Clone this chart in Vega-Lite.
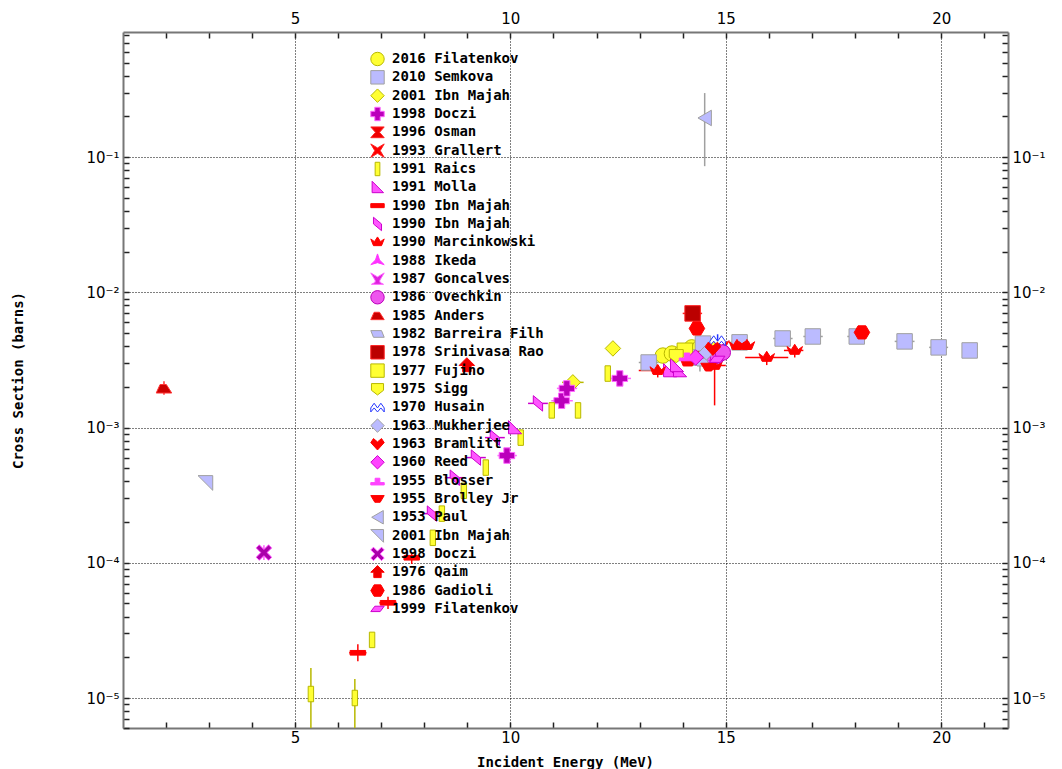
{
  "$schema": "https://vega.github.io/schema/vega-lite/v6.json",
  "width": 885,
  "height": 696,
  "autosize": {"type": "none"},
  "padding": {"left": 123, "top": 32, "right": 54, "bottom": 41},
  "background": "white",
  "config": {
    "view": {"stroke": null},
    "axis": {
      "domainColor": "#777777",
      "domainWidth": 2,
      "tickColor": "#222222",
      "tickWidth": 1.5,
      "gridColor": "#000000",
      "gridDash": [1, 2],
      "gridWidth": 1,
      "labelFont": "DejaVu Sans",
      "labelFontSize": 15,
      "labelColor": "#000000",
      "titleFont": "DejaVu Sans Mono",
      "titleFontWeight": "bold",
      "titleFontSize": 14,
      "titleColor": "#000000"
    },
    "legend": {"symbolLimit": 40}
  },
  "datasets": {
    "pts": [
      {"s": "01|2016 Filatenkov", "x": 13.54, "y": 0.00341, "xlo": 13.35, "xhi": 13.73},
      {"s": "01|2016 Filatenkov", "x": 13.75, "y": 0.00353, "xlo": 13.58, "xhi": 13.92},
      {"s": "01|2016 Filatenkov", "x": 13.98, "y": 0.00359},
      {"s": "01|2016 Filatenkov", "x": 14.21, "y": 0.00392},
      {"s": "01|2016 Filatenkov", "x": 14.40, "y": 0.00392},
      {"s": "01|2016 Filatenkov", "x": 14.58, "y": 0.00405},
      {"s": "02|2010 Semkova", "x": 13.21, "y": 0.00303, "xlo": 12.98, "xhi": 13.44},
      {"s": "02|2010 Semkova", "x": 14.40, "y": 0.0033, "ylo": 0.0026, "yhi": 0.0036},
      {"s": "02|2010 Semkova", "x": 14.47, "y": 0.00418},
      {"s": "02|2010 Semkova", "x": 15.32, "y": 0.00427, "xlo": 15.1, "xhi": 15.55},
      {"s": "02|2010 Semkova", "x": 16.32, "y": 0.00456, "xlo": 16.1, "xhi": 16.55},
      {"s": "02|2010 Semkova", "x": 17.02, "y": 0.00472, "xlo": 16.8, "xhi": 17.25},
      {"s": "02|2010 Semkova", "x": 18.04, "y": 0.00472, "xlo": 17.82, "xhi": 18.26},
      {"s": "02|2010 Semkova", "x": 19.15, "y": 0.00434, "xlo": 18.92, "xhi": 19.38},
      {"s": "02|2010 Semkova", "x": 19.94, "y": 0.00392, "xlo": 19.72, "xhi": 20.16},
      {"s": "02|2010 Semkova", "x": 20.66, "y": 0.00372, "ylo": 0.0034, "yhi": 0.0041},
      {"s": "03|2001 Ibn Majah", "x": 11.45, "y": 0.00216, "xlo": 11.2, "xhi": 11.7},
      {"s": "03|2001 Ibn Majah", "x": 12.38, "y": 0.00385},
      {"s": "04|1998 Doczi", "x": 9.92, "y": 0.000621, "xlo": 9.7, "xhi": 10.15},
      {"s": "04|1998 Doczi", "x": 11.19, "y": 0.00158, "xlo": 10.95, "xhi": 11.45},
      {"s": "04|1998 Doczi", "x": 11.31, "y": 0.00195, "xlo": 11.08, "xhi": 11.55},
      {"s": "04|1998 Doczi", "x": 12.54, "y": 0.00231, "xlo": 12.3, "xhi": 12.8},
      {"s": "05|1996 Osman", "x": 14.51, "y": 0.0033},
      {"s": "06|1993 Grallert", "x": 14.9, "y": 0.00385},
      {"s": "07|1991 Raics", "x": 5.37, "y": 1.07e-05, "ylo": 4e-06, "yhi": 1.67e-05},
      {"s": "07|1991 Raics", "x": 6.39, "y": 1.0e-05, "ylo": 4e-06, "yhi": 1.38e-05},
      {"s": "07|1991 Raics", "x": 6.79, "y": 2.69e-05},
      {"s": "07|1991 Raics", "x": 8.20, "y": 0.000153},
      {"s": "07|1991 Raics", "x": 8.41, "y": 0.000231},
      {"s": "07|1991 Raics", "x": 8.92, "y": 0.000341},
      {"s": "07|1991 Raics", "x": 9.43, "y": 0.000506},
      {"s": "07|1991 Raics", "x": 10.24, "y": 0.000843},
      {"s": "07|1991 Raics", "x": 10.96, "y": 0.00134},
      {"s": "07|1991 Raics", "x": 11.57, "y": 0.00134},
      {"s": "07|1991 Raics", "x": 12.26, "y": 0.00251},
      {"s": "08|1991 Molla", "x": 10.10, "y": 0.001},
      {"s": "08|1991 Molla", "x": 13.70, "y": 0.00264},
      {"s": "08|1991 Molla", "x": 13.93, "y": 0.00264},
      {"s": "08|1991 Molla", "x": 13.86, "y": 0.00288},
      {"s": "09|1990 Ibn Majah", "x": 6.46, "y": 2.16e-05, "xlo": 6.26, "xhi": 6.66, "ylo": 1.87e-05, "yhi": 2.5e-05},
      {"s": "09|1990 Ibn Majah", "x": 7.16, "y": 5.06e-05, "xlo": 6.96, "xhi": 7.36, "ylo": 4.55e-05, "yhi": 5.6e-05},
      {"s": "09|1990 Ibn Majah", "x": 7.71, "y": 0.000109, "xlo": 7.53, "xhi": 7.89, "ylo": 9.8e-05, "yhi": 0.000118},
      {"s": "10|1990 Ibn Majah", "x": 8.18, "y": 0.000231, "xlo": 7.95, "xhi": 8.4},
      {"s": "10|1990 Ibn Majah", "x": 8.71, "y": 0.000426, "xlo": 8.48, "xhi": 8.94},
      {"s": "10|1990 Ibn Majah", "x": 9.20, "y": 0.0006, "xlo": 8.97, "xhi": 9.43},
      {"s": "10|1990 Ibn Majah", "x": 9.64, "y": 0.000843, "xlo": 9.41, "xhi": 9.87},
      {"s": "10|1990 Ibn Majah", "x": 10.64, "y": 0.00151, "xlo": 10.41, "xhi": 10.87},
      {"s": "11|1990 Marcinkowski", "x": 13.42, "y": 0.00264, "xlo": 12.98, "xhi": 13.8, "ylo": 0.00235, "yhi": 0.0029},
      {"s": "11|1990 Marcinkowski", "x": 14.12, "y": 0.00305},
      {"s": "11|1990 Marcinkowski", "x": 14.74, "y": 0.00288, "xlo": 14.5, "xhi": 15.0, "ylo": 0.00146, "yhi": 0.0032},
      {"s": "11|1990 Marcinkowski", "x": 15.26, "y": 0.00404},
      {"s": "11|1990 Marcinkowski", "x": 15.49, "y": 0.00404},
      {"s": "11|1990 Marcinkowski", "x": 15.95, "y": 0.0033, "xlo": 15.45, "xhi": 16.45, "ylo": 0.0029, "yhi": 0.0036},
      {"s": "11|1990 Marcinkowski", "x": 16.60, "y": 0.00372, "xlo": 16.35, "xhi": 16.8, "ylo": 0.0033, "yhi": 0.004},
      {"s": "12|1988 Ikeda", "x": 14.10, "y": 0.00359},
      {"s": "12|1988 Ikeda", "x": 14.62, "y": 0.0032},
      {"s": "13|1987 Goncalves", "x": 14.68, "y": 0.00341},
      {"s": "14|1986 Ovechkin", "x": 14.81, "y": 0.00341},
      {"s": "14|1986 Ovechkin", "x": 14.93, "y": 0.00359},
      {"s": "15|1985 Anders", "x": 1.96, "y": 0.00195, "ylo": 0.00175, "yhi": 0.0022},
      {"s": "16|1982 Barreira Filh", "x": 14.44, "y": 0.00305},
      {"s": "17|1978 Srinivasa Rao", "x": 14.23, "y": 0.00699, "xlo": 14.0, "xhi": 14.45},
      {"s": "18|1977 Fujino", "x": 14.05, "y": 0.0037},
      {"s": "19|1975 Sigg", "x": 13.85, "y": 0.0034},
      {"s": "20|1970 Husain", "x": 14.81, "y": 0.00441, "ylo": 0.0038, "yhi": 0.0049},
      {"s": "21|1963 Mukherjee", "x": 14.55, "y": 0.0036},
      {"s": "22|1963 Bramlitt", "x": 14.70, "y": 0.00385},
      {"s": "23|1960 Reed", "x": 14.3, "y": 0.0033},
      {"s": "24|1955 Blosser", "x": 14.1, "y": 0.0034},
      {"s": "25|1955 Brolley Jr", "x": 14.6, "y": 0.0028},
      {"s": "26|1953 Paul", "x": 14.51, "y": 0.195, "ylo": 0.0858, "yhi": 0.298},
      {"s": "27|2001 Ibn Majah", "x": 2.93, "y": 0.000392},
      {"s": "28|1998 Doczi", "x": 4.28, "y": 0.000119, "ylo": 0.000105, "yhi": 0.000135},
      {"s": "29|1976 Qaim", "x": 8.99, "y": 0.00288},
      {"s": "30|1986 Gadioli", "x": 14.33, "y": 0.00541},
      {"s": "30|1986 Gadioli", "x": 18.16, "y": 0.00506},
      {"s": "31|1999 Filatenkov", "x": 14.8, "y": 0.0032}
    ]
  },
  "data": {"name": "pts"},
  "resolve": {"axis": {"x": "independent", "y": "independent"}},
  "layer": [
    {
      "transform": [{"filter": "isValid(datum.xlo)"}],
      "mark": {"type": "rule", "clip": true, "strokeWidth": 1.5},
      "encoding": {
        "x": {"field": "xlo", "type": "quantitative",
          "scale": {"domain": [1.009, 21.55], "nice": false, "zero": false},
          "axis": {
            "orient": "bottom",
            "values": [2,3,4,5,6,7,8,9,10,11,12,13,14,15,16,17,18,19,20,21],
            "labelExpr": "datum.value % 5 == 0 ? datum.label : ''",
            "tickSize": -6,
            "grid": true,
            "gridOpacity": {"condition": {"test": "datum.value % 5 == 0", "value": 1}, "value": 0},
            "labelPadding": 8,
            "labelFlush": false,
            "title": "Incident Energy (MeV)",
            "titleX": 442,
            "titleY": 34,
            "titleBaseline": "middle"
          }},
        "x2": {"field": "xhi"},
        "y": {"field": "y", "type": "quantitative",
          "scale": {"type": "log", "domain": [6.0e-06, 0.843], "nice": false, "zero": false},
          "axis": {
            "orient": "left",
            "values": [6e-06,7e-06,8e-06,9e-06,1e-05,2e-05,3e-05,4e-05,5e-05,6e-05,7e-05,8e-05,9e-05,0.0001,0.0002,0.0003,0.0004,0.0005,0.0006,0.0007,0.0008,0.0009,0.001,0.002,0.003,0.004,0.005,0.006,0.007,0.008,0.009,0.01,0.02,0.03,0.04,0.05,0.06,0.07,0.08,0.09,0.1,0.2,0.3,0.4,0.5,0.6,0.7,0.8],
            "labelExpr": "abs(datum.value/pow(10,round(log(datum.value)/LN10))-1)<0.01 ? (round(log(datum.value)/LN10)==-1 ? '10⁻¹' : round(log(datum.value)/LN10)==-2 ? '10⁻²' : round(log(datum.value)/LN10)==-3 ? '10⁻³' : round(log(datum.value)/LN10)==-4 ? '10⁻⁴' : round(log(datum.value)/LN10)==-5 ? '10⁻⁵' : '') : ''",
            "tickSize": -6,
            "grid": true,
            "gridOpacity": {"condition": {"test": "abs(datum.value/pow(10,round(log(datum.value)/LN10))-1)<0.01", "value": 1}, "value": 0},
            "labelPadding": 10,
            "labelFlush": false,
            "labelOverlap": false,
            "title": "Cross Section (barns)",
            "titleX": -105,
            "titleY": 348,
            "titleBaseline": "middle"
          }},
        "stroke": {"field": "s", "type": "nominal"}
      }
    },
    {
      "transform": [{"filter": "isValid(datum.ylo)"}],
      "mark": {"type": "rule", "clip": true, "strokeWidth": 1.5},
      "encoding": {
        "x": {"field": "x", "type": "quantitative",
          "scale": {"domain": [1.009, 21.55], "nice": false, "zero": false},
          "axis": {
            "orient": "top",
            "values": [2,3,4,5,6,7,8,9,10,11,12,13,14,15,16,17,18,19,20,21],
            "labelExpr": "datum.value % 5 == 0 ? datum.label : ''",
            "tickSize": -6,
            "grid": false,
            "labelPadding": 12,
            "labelFlush": false,
            "title": null
          }},
        "y": {"field": "ylo", "type": "quantitative",
          "scale": {"type": "log", "domain": [6.0e-06, 0.843], "nice": false, "zero": false},
          "axis": {
            "orient": "right",
            "values": [6e-06,7e-06,8e-06,9e-06,1e-05,2e-05,3e-05,4e-05,5e-05,6e-05,7e-05,8e-05,9e-05,0.0001,0.0002,0.0003,0.0004,0.0005,0.0006,0.0007,0.0008,0.0009,0.001,0.002,0.003,0.004,0.005,0.006,0.007,0.008,0.009,0.01,0.02,0.03,0.04,0.05,0.06,0.07,0.08,0.09,0.1,0.2,0.3,0.4,0.5,0.6,0.7,0.8],
            "labelExpr": "abs(datum.value/pow(10,round(log(datum.value)/LN10))-1)<0.01 ? (round(log(datum.value)/LN10)==-1 ? '10⁻¹' : round(log(datum.value)/LN10)==-2 ? '10⁻²' : round(log(datum.value)/LN10)==-3 ? '10⁻³' : round(log(datum.value)/LN10)==-4 ? '10⁻⁴' : round(log(datum.value)/LN10)==-5 ? '10⁻⁵' : '') : ''",
            "tickSize": -6,
            "grid": false,
            "labelPadding": 10,
            "labelFlush": false,
            "labelOverlap": false,
            "title": null
          }},
        "y2": {"field": "yhi"},
        "stroke": {"field": "s", "type": "nominal"}
      }
    },
    {
      "mark": {"type": "point", "filled": true, "opacity": 1, "strokeWidth": 1, "size": 240},
      "encoding": {
        "x": {"field": "x", "type": "quantitative", "axis": null,
          "scale": {"domain": [1.009, 21.55], "nice": false, "zero": false}},
        "y": {"field": "y", "type": "quantitative", "axis": null,
          "scale": {"type": "log", "domain": [6.0e-06, 0.843], "nice": false, "zero": false}},
        "fill": {"field": "s", "type": "nominal",
          "scale": {"domain": ["01|2016 Filatenkov","02|2010 Semkova","03|2001 Ibn Majah","04|1998 Doczi","05|1996 Osman","06|1993 Grallert","07|1991 Raics","08|1991 Molla","09|1990 Ibn Majah","10|1990 Ibn Majah","11|1990 Marcinkowski","12|1988 Ikeda","13|1987 Goncalves","14|1986 Ovechkin","15|1985 Anders","16|1982 Barreira Filh","17|1978 Srinivasa Rao","18|1977 Fujino","19|1975 Sigg","20|1970 Husain","21|1963 Mukherjee","22|1963 Bramlitt","23|1960 Reed","24|1955 Blosser","25|1955 Brolley Jr","26|1953 Paul","27|2001 Ibn Majah","28|1998 Doczi","29|1976 Qaim","30|1986 Gadioli","31|1999 Filatenkov"],
            "range": ["#ffff33","#bbbbff","#ffff33","#bb00bb","#ee0000","#ff0000","#ffff33","#ff55ff","#ff0000","#ff55ff","#ff0000","#ff33ff","#dd22dd","#ee55ee","#cc0000","#bbbbff","#bb0000","#ffff33","#ffff33","#ffffff","#bbbbff","#ff0000","#ff44ff","#ff44ff","#ff0000","#bbbbff","#bbbbff","#aa00aa","#ee0000","#ff0000","#ff55ff"]},
          "legend": {"orient": "none", "legendX": 247, "legendY": 19, "title": null, "padding": 0, "labelFont": "DejaVu Sans Mono", "labelFontWeight": "bold", "labelFontSize": 14, "labelColor": "#000000", "symbolSize": 180, "clipHeight": 16, "rowPadding": 2.33, "labelOffset": 7, "symbolStrokeWidth": 1, "labelExpr": "slice(datum.label, 3)", "labelLimit": 300, "symbolLimit": 40}},
        "stroke": {"field": "s", "type": "nominal",
          "scale": {"domain": ["01|2016 Filatenkov","02|2010 Semkova","03|2001 Ibn Majah","04|1998 Doczi","05|1996 Osman","06|1993 Grallert","07|1991 Raics","08|1991 Molla","09|1990 Ibn Majah","10|1990 Ibn Majah","11|1990 Marcinkowski","12|1988 Ikeda","13|1987 Goncalves","14|1986 Ovechkin","15|1985 Anders","16|1982 Barreira Filh","17|1978 Srinivasa Rao","18|1977 Fujino","19|1975 Sigg","20|1970 Husain","21|1963 Mukherjee","22|1963 Bramlitt","23|1960 Reed","24|1955 Blosser","25|1955 Brolley Jr","26|1953 Paul","27|2001 Ibn Majah","28|1998 Doczi","29|1976 Qaim","30|1986 Gadioli","31|1999 Filatenkov"],
            "range": ["#b8b800","#a0a0a0","#b8b800","#ff66ff","#ff2222","#ff2222","#b8b800","#cc00cc","#ff0000","#cc00cc","#ff0000","#ff33ff","#ff66ff","#bb00bb","#ff3333","#a0a0a0","#ff2222","#b8b800","#b8b800","#2233ff","#a0a0a0","#ff0000","#cc00cc","#ff44ff","#ff0000","#a0a0a0","#a0a0a0","#ff55ff","#ff0000","#ff0000","#cc00cc"]},
          "legend": {"orient": "none", "legendX": 247, "legendY": 19, "title": null, "padding": 0, "labelFont": "DejaVu Sans Mono", "labelFontWeight": "bold", "labelFontSize": 14, "labelColor": "#000000", "symbolSize": 180, "clipHeight": 16, "rowPadding": 2.33, "labelOffset": 7, "symbolStrokeWidth": 1, "labelExpr": "slice(datum.label, 3)", "labelLimit": 300, "symbolLimit": 40}},
        "shape": {"field": "s", "type": "nominal",
          "scale": {"domain": ["01|2016 Filatenkov","02|2010 Semkova","03|2001 Ibn Majah","04|1998 Doczi","05|1996 Osman","06|1993 Grallert","07|1991 Raics","08|1991 Molla","09|1990 Ibn Majah","10|1990 Ibn Majah","11|1990 Marcinkowski","12|1988 Ikeda","13|1987 Goncalves","14|1986 Ovechkin","15|1985 Anders","16|1982 Barreira Filh","17|1978 Srinivasa Rao","18|1977 Fujino","19|1975 Sigg","20|1970 Husain","21|1963 Mukherjee","22|1963 Bramlitt","23|1960 Reed","24|1955 Blosser","25|1955 Brolley Jr","26|1953 Paul","27|2001 Ibn Majah","28|1998 Doczi","29|1976 Qaim","30|1986 Gadioli","31|1999 Filatenkov"],
            "range": [
              "circle",
              "square",
              "diamond",
              "cross",
              "M-1,-0.8L1,-0.8L0.3,0L1,0.8L-1,0.8L-0.3,0Z",
              "M-1,-1L0,-0.4L1,-1L0.4,0L1,1L0,0.4L-1,1L-0.4,0Z",
              "M-0.35,-1L0.35,-1L0.35,1L-0.35,1Z",
              "M-0.8,-0.9L-0.8,0.8L0.9,0.8Z",
              "M-1,-0.3L1,-0.3L1,0.3L-1,0.3Z",
              "M-0.6,-1L0.6,0L0.6,1L-0.6,0Z",
              "M-1,-0.5L-0.45,-0.1L0,-0.8L0.45,-0.1L1,-0.5L0.6,0.5L-0.6,0.5Z",
              "M0,-1L0.3,-0.1L1,0.6L0,0.3L-1,0.6L-0.3,-0.1Z",
              "M-1,-0.9L0,-0.3L1,-0.9L0.35,0.2L0.35,0.5L0.9,0.8L-0.9,0.8L-0.35,0.5L-0.35,0.2Z",
              "circle",
              "M-1,0.6L-0.5,-0.5L0.3,-0.5L1,0.6Z",
              "M-1,-0.5L0.6,-0.5L1,0.5L-0.6,0.5Z",
              "square",
              "square",
              "M-0.9,-0.8L0.9,-0.8L0.9,0.2L0,0.9L-0.9,0.2Z",
              "M-1,0.1L-0.5,-0.6L0,0.1L0.5,-0.6L1,0.1L1,0.7L0.5,0.1L0,0.7L-0.5,0.1L-1,0.7Z",
              "diamond",
              "M0,0.9L-1,-0.2L-0.6,-0.8L0,-0.3L0.6,-0.8L1,-0.2Z",
              "diamond",
              "M-1,0.3L-0.35,0.3L-0.35,-0.35L0.35,-0.35L0.35,0.3L1,0.3L1,0.65L-1,0.65Z",
              "M-1,-0.5L1,-0.5L0.4,0.5L-0.4,0.5Z",
              "triangle-left",
              "M-1,-0.9L0.9,-0.9L0.9,1Z",
              "M-1,-0.6L-0.6,-1L0,-0.4L0.6,-1L1,-0.6L0.4,0L1,0.6L0.6,1L0,0.4L-0.6,1L-1,0.6L-0.4,0Z",
              "M0,-1L1,0L0.55,0L0.55,0.8L-0.55,0.8L-0.55,0L-1,0Z",
              "M-0.5,-0.85L0.5,-0.85L1,0L0.5,0.85L-0.5,0.85L-1,0Z",
              "M-0.4,-0.4L1,-0.4L0.4,0.4L-1,0.4Z"
            ]},
          "legend": {"orient": "none", "legendX": 247, "legendY": 19, "title": null, "padding": 0, "labelFont": "DejaVu Sans Mono", "labelFontWeight": "bold", "labelFontSize": 14, "labelColor": "#000000", "symbolSize": 180, "clipHeight": 16, "rowPadding": 2.33, "labelOffset": 7, "symbolStrokeWidth": 1, "labelExpr": "slice(datum.label, 3)", "labelLimit": 300, "symbolLimit": 40}}
      }
    }
  ]
}
